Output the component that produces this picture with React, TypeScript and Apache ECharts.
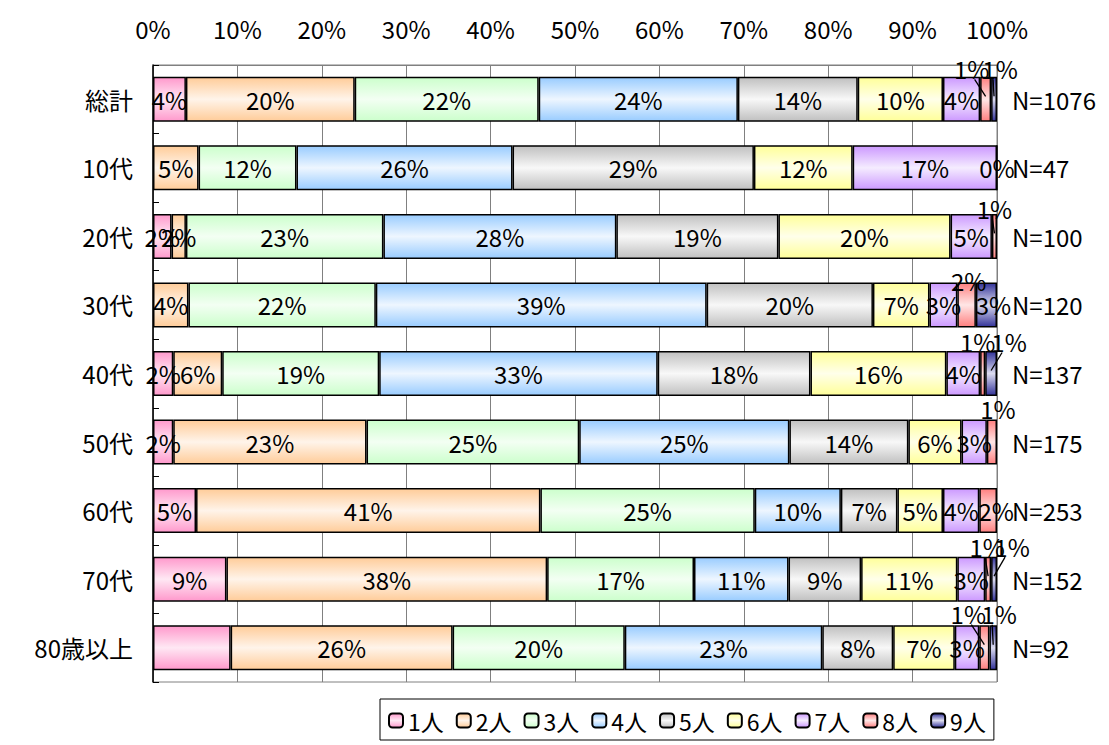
import React, { useEffect, useRef } from "react";
import * as echarts from "echarts";

const categories = ["総計", "10代", "20代", "30代", "40代", "50代", "60代", "70代", "80歳以上"];
const nLabels = ["N=1076", "N=47", "N=100", "N=120", "N=137", "N=175", "N=253", "N=152", "N=92"];
const seriesNames = ["1人", "2人", "3人", "4人", "5人", "6人", "7人", "8人", "9人"];
const xTicks = [0, 10, 20, 30, 40, 50, 60, 70, 80, 90, 100];

const p1 = [3.9, null, 2.2, null, 2.4, 2.4, 5.1, 8.7, 9.2];
const p2 = [20.0, 5.4, 1.7, 4.2, 5.8, 22.9, 40.8, 38.0, 26.3];
const p3 = [21.8, 11.6, 23.4, 22.2, 18.6, 25.2, 25.4, 17.4, 20.4];
const p4 = [23.6, 25.6, 27.6, 39.2, 33.0, 24.9, 10.2, 11.2, 23.4];
const p5 = [14.2, 28.6, 19.2, 19.7, 18.1, 14.1, 6.7, 8.6, 8.4];
const p6 = [10.1, 11.7, 20.4, 6.7, 16.1, 6.3, 5.4, 11.4, 7.3];
const p7 = [4.4, 17.1, 4.9, 3.3, 4.0, 3.0, 4.3, 3.3, 2.9];
const p8 = [1.3, 0, 0.6, 2.2, 0.6, 1.2, 2.1, 0.7, 1.2];
const p9 = [0.7, null, null, 2.5, 1.4, null, null, 0.7, 0.9];
const values = [p1, p2, p3, p4, p5, p6, p7, p8, p9];

// [series, row] of labels that are not shown
const hiddenLabels: [number, number][] = [[0, 8]];

// colours: [edge, centre]
const colors: [string, string][] = [
  ["#ff99cc", "#ffe8f4"],
  ["#ffcc99", "#fff4ea"],
  ["#ccffcc", "#f3fff3"],
  ["#99ccff", "#eef6ff"],
  ["#c0c0c0", "#f8f8f8"],
  ["#ffff99", "#ffffea"],
  ["#cc99ff", "#f5ecff"],
  ["#ff8080", "#ffe6e6"],
  ["#333399", "#dcdcf0"],
];

// moved labels: key "series-row" -> [dx, dy, withLine]
const labelMoves: Record<string, [number, number, boolean]> = {
  "7-0": [-14, -31, true],
  "8-0": [6, -31, true],
  "7-2": [0, -28, true],
  "7-3": [2, -24, false],
  "8-3": [7, 0, false],
  "7-4": [-5, -32, false],
  "8-4": [18, -32, true],
  "7-5": [6, -34, false],
  "7-6": [8, 0, false],
  "7-7": [-1, -33, true],
  "8-7": [18, -33, true],
  "7-8": [-16, -34, true],
  "8-8": [6, -34, true],
};

const FONT = "'Noto Sans CJK JP', sans-serif";
const FS = 24;

export default function App() {
  const ref = useRef<HTMLDivElement>(null);
  useEffect(() => {
    if (!ref.current) return;
    const chart = echarts.init(ref.current, undefined, { renderer: "svg" });
    const grad = (edge: string, mid: string) =>
      new echarts.graphic.LinearGradient(0, 0, 0, 1, [
        { offset: 0, color: edge },
        { offset: 0.5, color: mid },
        { offset: 1, color: edge },
      ]);
    const series: any[] = seriesNames.map((name, si) => ({
      name,
      type: "bar",
      stack: "total",
      barWidth: 45,
      xAxisIndex: 0,
      yAxisIndex: 0,
      data: values[si].map((v, ri) => {
        if (v === null) return null;
        const item: any = { value: v };
        if (hiddenLabels.some(([s, r]) => s === si && r === ri)) item.label = { show: false };
        return item;
      }),
      itemStyle: { color: grad(colors[si][0], colors[si][1]), borderColor: "#000", borderWidth: 1.5 },
      label: {
        show: true,
        position: "inside",
        formatter: (p: any) => Math.round(p.value) + "%",
        color: "#000",
        fontSize: FS,
        fontFamily: FONT,
      },
      labelLayout: (params: any) => {
        const mv = labelMoves[`${params.seriesIndex}-${params.dataIndex}`];
        return mv ? { dx: mv[0], dy: mv[1] } : {};
      },
    }));

    // leader lines for moved labels, derived from the stacked values
    const leaderData: number[][] = [];
    Object.keys(labelMoves).forEach((k) => {
      const [si, ri] = k.split("-").map(Number);
      const mv = labelMoves[k];
      if (!mv[2]) return;
      let start = 0;
      for (let s = 0; s < si; s++) start += values[s][ri] ?? 0;
      const v = values[si][ri] ?? 0;
      leaderData.push([start + v / 2, ri, mv[0], mv[1]]);
    });
    series.push({
      type: "custom",
      name: "leader",
      coordinateSystem: "cartesian2d",
      xAxisIndex: 0,
      yAxisIndex: 0,
      z: 5,
      silent: true,
      data: leaderData,
      renderItem: (_p: any, api: any) => {
        const pt = api.coord([api.value(0), api.value(1)]);
        const dx = api.value(2);
        const dy = api.value(3);
        const lx = pt[0] + dx;
        const ly = pt[1] + dy;
        const sx = dx > 4 ? lx - 7 : dx < -4 ? lx + 3 : lx - 2;
        return {
          type: "line",
          shape: { x1: sx, y1: ly + 11, x2: pt[0], y2: pt[1] - 3 },
          style: { stroke: "#000", lineWidth: 1.3 },
        };
      },
    });

    chart.setOption({
      animation: false,
      backgroundColor: "#fff",
      textStyle: { fontFamily: FONT },
      grid: { left: 153, right: 112, top: 65, bottom: 63, show: true, borderColor: "#808080", borderWidth: 1 },
      legend: {
        data: seriesNames,
        left: 380,
        top: 699,
        itemWidth: 14,
        itemHeight: 14,
        itemGap: 12,
        borderColor: "#000",
        borderWidth: 1,
        padding: [10, 8, 8, 8],
        textStyle: { fontSize: 23, color: "#000", fontFamily: FONT },
      },
      xAxis: {
        type: "value",
        position: "top",
        min: 0,
        max: 100,
        interval: 10,
        axisLabel: { formatter: (v: number) => (xTicks.includes(v) ? v + "%" : ""), fontSize: FS, color: "#000", margin: 25, fontFamily: FONT },
        axisLine: { show: true, lineStyle: { color: "#808080" } },
        axisTick: { show: false },
        splitLine: { show: true, lineStyle: { color: "#808080", width: 1 } },
      },
      yAxis: [
        {
          type: "category",
          data: categories,
          inverse: true,
          axisLine: { show: true, lineStyle: { color: "#000", width: 1.5 } },
          axisTick: { show: true, inside: true, length: 6, lineStyle: { color: "#000" } },
          axisLabel: { fontSize: FS, color: "#000", margin: 20, fontFamily: FONT },
        },
        {
          type: "category",
          data: nLabels,
          inverse: true,
          position: "right",
          axisLine: { show: false },
          axisTick: { show: false },
          axisLabel: { fontSize: FS, color: "#000", margin: 15, fontFamily: FONT },
        },
      ],
      series,
    });
    return () => chart.dispose();
  }, []);
  return <div ref={ref} style={{ position: "fixed", left: 0, top: 0, width: 1109, height: 745 }} />;
}
